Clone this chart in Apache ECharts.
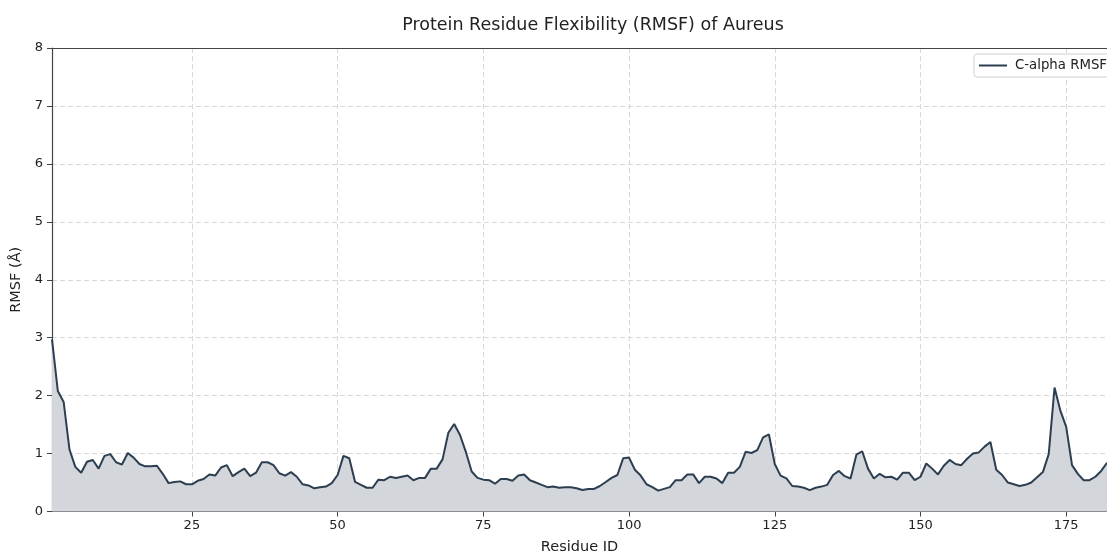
<!DOCTYPE html>
<html>
<head>
<meta charset="utf-8">
<script src="https://cdn.jsdelivr.net/npm/echarts@6/dist/echarts.min.js"></script>
<style>
  html, body { margin: 0; padding: 0; background: #fff; }
  #chart { width: 1107px; height: 553px; }
</style>
</head>
<body>
<div id="chart"></div>
<script>
// residue ids run 1..182 (the picture is cut at the right edge)
var rmsf = [
    2.97, 2.08, 1.89, 1.07, 0.77, 0.67, 0.86, 0.89, 0.74, 0.96,
    0.99, 0.85, 0.81, 1.01, 0.93, 0.82, 0.78, 0.78, 0.79, 0.65,
    0.49, 0.51, 0.52, 0.47, 0.47, 0.53, 0.56, 0.64, 0.62, 0.76,
    0.80, 0.61, 0.68, 0.74, 0.61, 0.67, 0.85, 0.85, 0.80, 0.66,
    0.62, 0.68, 0.60, 0.47, 0.45, 0.40, 0.42, 0.43, 0.49, 0.63,
    0.96, 0.92, 0.51, 0.46, 0.41, 0.41, 0.55, 0.54, 0.60, 0.58,
    0.60, 0.62, 0.54, 0.58, 0.58, 0.74, 0.74, 0.90, 1.36, 1.51,
    1.32, 1.03, 0.69, 0.58, 0.55, 0.54, 0.48, 0.56, 0.56, 0.53,
    0.62, 0.64, 0.54, 0.50, 0.46, 0.42, 0.43, 0.41, 0.42, 0.42,
    0.40, 0.37, 0.39, 0.39, 0.44, 0.51, 0.58, 0.63, 0.92, 0.93,
    0.72, 0.62, 0.47, 0.42, 0.36, 0.39, 0.42, 0.54, 0.54, 0.64,
    0.64, 0.49, 0.60, 0.60, 0.57, 0.49, 0.67, 0.67, 0.77, 1.03,
    1.01, 1.06, 1.28, 1.33, 0.82, 0.62, 0.57, 0.44, 0.43, 0.41,
    0.37, 0.41, 0.43, 0.46, 0.63, 0.70, 0.61, 0.57, 0.98, 1.04,
    0.74, 0.57, 0.65, 0.59, 0.60, 0.55, 0.67, 0.67, 0.54, 0.60,
    0.83, 0.74, 0.64, 0.79, 0.89, 0.82, 0.80, 0.91, 1.00, 1.02,
    1.12, 1.20, 0.72, 0.63, 0.50, 0.47, 0.44, 0.46, 0.50, 0.59,
    0.68, 0.99, 2.14, 1.74, 1.46, 0.80, 0.65, 0.54, 0.54, 0.60,
    0.70, 0.84
];
var xTicks = [25, 50, 75, 100, 125, 150, 175];
var yMax = 8;

var chart = echarts.init(document.getElementById('chart'), null, {
    renderer: 'canvas'
});

var toPoints = function (vals) {
    var res = [];
    for (var i = 0; i < vals.length; i++) {
        res.push([i + 1, vals[i]]);
    }
    return res;
};

var font = 'DejaVu Sans';

chart.setOption({
    animation: false,
    title: {
        text: 'Protein Residue Flexibility (RMSF) of Aureus',
        left: 588,
        top: 11,
        textAlign: 'center',
        textStyle: {
            color: '#222',
            fontFamily: font,
            fontWeight: 'normal',
            fontSize: 17.5
        }
    },
    legend: {
        left: 974,
        top: 54,
        padding: [5, 8, 5, 5],
        backgroundColor: '#fff',
        borderColor: '#d0d0d0',
        borderWidth: 1,
        borderRadius: 3,
        icon: 'rect',
        itemWidth: 28,
        itemHeight: 2,
        itemGap: 8,
        textStyle: {
            color: '#222',
            fontFamily: font,
            fontSize: 13.3,
            padding: [0, 0, 0, 3]
        },
        data: ['C-alpha RMSF']
    },
    grid: {
        left: 52,
        right: 0,
        top: 48,
        bottom: 41.5,
        outerBoundsMode: 'none'
    },
    xAxis: [{
        type: 'value',
        min: 1,
        max: rmsf.length,
        name: 'Residue ID',
        nameLocation: 'middle',
        nameGap: 28,
        nameTextStyle: {
            color: '#222',
            fontFamily: font,
            fontSize: 14.5
        },
        axisLine: { show: true, onZero: false, lineStyle: { color: '#444', width: 1.2 } },
        axisTick: { show: true, length: 5, customValues: xTicks, lineStyle: { color: '#444' } },
        axisLabel: {
            customValues: xTicks,
            color: '#222',
            fontFamily: font,
            fontSize: 13,
            margin: 8
        },
        splitLine: {
            show: true,
            lineStyle: { color: '#d8d8d8', type: [5, 3], width: 1 }
        }
    }, {
        // top spine only
        type: 'value',
        position: 'top',
        min: 1,
        max: rmsf.length,
        axisLine: { show: true, onZero: false, lineStyle: { color: '#444', width: 1.2 } },
        axisTick: { show: false },
        axisLabel: { show: false },
        splitLine: { show: false }
    }],
    yAxis: {
        type: 'value',
        min: 0,
        max: yMax,
        interval: 1,
        name: 'RMSF (Å)',
        nameLocation: 'middle',
        nameGap: 25,
        nameTextStyle: {
            color: '#222',
            fontFamily: font,
            fontSize: 14.5
        },
        axisLine: { show: true, lineStyle: { color: '#444', width: 1.2 } },
        axisTick: { show: true, length: 5, lineStyle: { color: '#444' } },
        axisLabel: {
            color: '#222',
            fontFamily: font,
            fontSize: 13,
            margin: 9
        },
        splitLine: {
            show: true,
            lineStyle: { color: '#d8d8d8', type: [5, 3], width: 1 }
        }
    },
    series: [{
        name: 'C-alpha RMSF',
        type: 'line',
        data: toPoints(rmsf),
        showSymbol: false,
        symbol: 'none',
        clip: true,
        lineStyle: { color: '#2c3e50', width: 2 },
        itemStyle: { color: '#2c3e50' },
        areaStyle: { color: '#d3d6da', opacity: 1, origin: 'start' }
    }]
});
</script>
</body>
</html>
